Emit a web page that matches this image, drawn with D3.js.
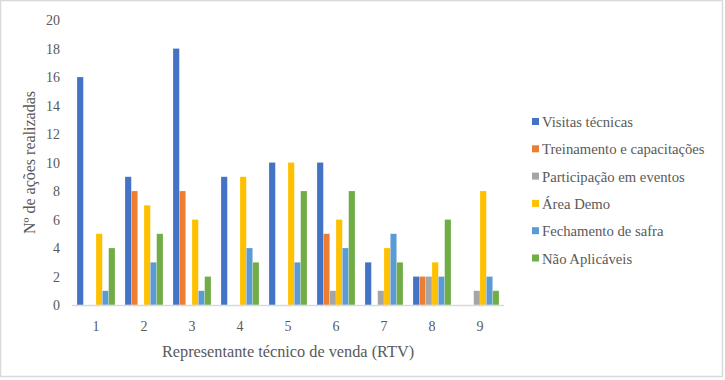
<!DOCTYPE html>
<html>
<head>
<meta charset="utf-8">
<script src="https://cdn.jsdelivr.net/npm/d3@7"></script>
<style>
  body { margin: 0; background: #fff; }
</style>
</head>
<body>
<div id="chart"></div>
<script>
// data
var categories = ["1", "2", "3", "4", "5", "6", "7", "8", "9"];
var seriesNames = ["Visitas técnicas", "Treinamento e capacitações", "Participação em eventos",
    "Área Demo", "Fechamento de safra", "Não Aplicáveis"];
var visitas = [16, 9, 18, 9, 10, 10, 3, 2, 0];
var treinamento = [0, 8, 8, 0, 0, 5, 0, 2, 0];
var participacao = [0, 0, 0, 0, 0, 1, 1, 2, 1];
var areaDemo = [5, 7, 6, 9, 10, 6, 4, 3, 8];
var fechamento = [1, 3, 1, 4, 3, 4, 5, 2, 2];
var naoAplicaveis = [4, 5, 2, 3, 8, 8, 3, 6, 1];
var yTicks = [0, 2, 4, 6, 8, 10, 12, 14, 16, 18, 20];

var allSeries = [visitas, treinamento, participacao, areaDemo, fechamento, naoAplicaveis];
var colors = ["#4472C4", "#ED7D31", "#A5A5A5", "#FFC000", "#5B9BD5", "#70AD47"];

var width = 725, height = 380;
var margin = {top: 20, left: 72, right: 221, bottom: 75};
var serif = "'Liberation Serif', 'Times New Roman', serif";

var svg = d3.select("#chart")
    .append("svg")
    .attr("width", width)
    .attr("height", height)
    .attr("font-family", serif);

// outer frame
svg.append("rect")
    .attr("x", 0.5).attr("y", 0.5)
    .attr("width", 722).attr("height", 376)
    .attr("fill", "#fff")
    .attr("stroke", "#d9d9d9")
    .attr("stroke-width", 1.5);

var x0 = d3.scaleBand()
    .domain(categories)
    .range([margin.left, width - margin.right]);

var x1 = d3.scaleBand()
    .domain(d3.range(seriesNames.length))
    .range([0, x0.bandwidth()])
    .paddingInner(0)
    .paddingOuter(0.79);

var y = d3.scaleLinear()
    .domain([0, 20])
    .range([height - margin.bottom, margin.top]);

// bars
var groups = svg.selectAll("g.grp")
    .data(categories)
    .enter()
    .append("g")
    .attr("class", "grp")
    .attr("transform", function (d) { return "translate(" + x0(d) + ",0)"; });

groups.selectAll("rect")
    .data(function (d, i) {
        return allSeries.map(function (s, k) { return {k: k, v: s[i]}; });
    })
    .enter()
    .append("rect")
    .attr("x", function (d) { return x1(d.k); })
    .attr("width", x1.bandwidth())
    .attr("y", function (d) { return y(d.v); })
    .attr("height", function (d) { return y(0) - y(d.v); })
    .attr("fill", function (d) { return colors[d.k]; })
    .attr("stroke", "#fff")
    .attr("stroke-opacity", 0.35)
    .attr("stroke-width", 0.6);

// x axis line
svg.append("line")
    .attr("x1", margin.left).attr("x2", width - margin.right)
    .attr("y1", y(0) + 0.5).attr("y2", y(0) + 0.5)
    .attr("stroke", "#d9d9d9")
    .attr("stroke-width", 1.5);

// tick labels
svg.selectAll("text.ytick")
    .data(yTicks)
    .enter()
    .append("text")
    .attr("class", "ytick")
    .attr("x", 60)
    .attr("y", function (d) { return y(d) + 5; })
    .attr("text-anchor", "end")
    .attr("font-family", serif)
    .attr("font-size", 14)
    .attr("fill", "#595959")
    .text(function (d) { return d; });

svg.selectAll("text.xtick")
    .data(categories)
    .enter()
    .append("text")
    .attr("class", "xtick")
    .attr("x", function (d) { return x0(d) + x0.bandwidth() / 2; })
    .attr("y", 331)
    .attr("text-anchor", "middle")
    .attr("font-family", serif)
    .attr("font-size", 14)
    .attr("fill", "#595959")
    .text(function (d) { return d; });

// axis titles
svg.append("text")
    .attr("x", x0.range()[0] + (x0.range()[1] - x0.range()[0]) / 2)
    .attr("y", 357)
    .attr("text-anchor", "middle")
    .attr("font-family", serif)
    .attr("font-size", 16.3)
    .attr("fill", "#595959")
    .text("Representante técnico de venda (RTV)");

svg.append("text")
    .attr("transform", "translate(35," + y(10) + ") rotate(-90)")
    .attr("text-anchor", "middle")
    .attr("font-family", serif)
    .attr("font-size", 16)
    .attr("fill", "#595959")
    .text("Nº de ações realizadas");

// legend
var legend = svg.selectAll("g.leg")
    .data(seriesNames)
    .enter()
    .append("g")
    .attr("class", "leg")
    .attr("transform", function (d, i) { return "translate(532," + (122 + i * 27.3) + ")"; });

legend.append("rect")
    .attr("x", 0).attr("y", -4)
    .attr("width", 7).attr("height", 7)
    .attr("fill", function (d, i) { return colors[i]; });

legend.append("text")
    .attr("x", 10)
    .attr("y", 5)
    .attr("font-family", serif)
    .attr("font-size", 14.7)
    .attr("fill", "#595959")
    .text(function (d) { return d; });
</script>
</body>
</html>
